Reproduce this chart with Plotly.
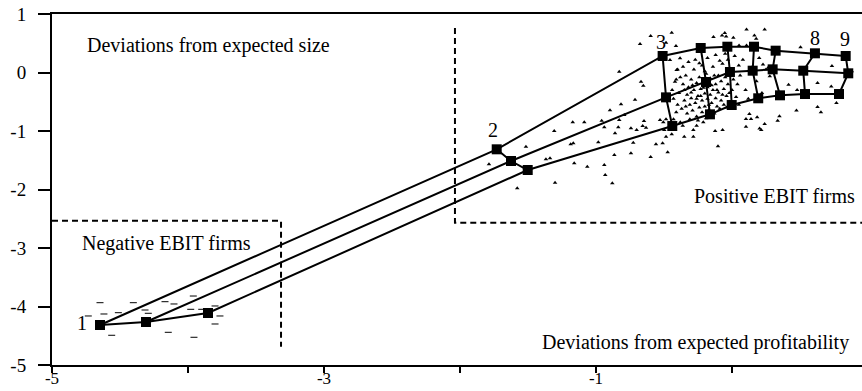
import plotly.graph_objects as go

# ---- data ----
groups = ["1", "2", "3", "4", "5", "6", "7", "8", "9"]
upper_x = [-4.647, -1.730, -0.510, -0.230, -0.034, 0.162, 0.321, 0.610, 0.836]
upper_y = [-4.316, -1.313, 0.282, 0.419, 0.441, 0.441, 0.373, 0.328, 0.282]
middle_x = [-4.309, -1.625, -0.485, -0.191, -0.015, 0.152, 0.299, 0.524, 0.855]
middle_y = [-4.265, -1.513, -0.425, -0.162, 0.009, 0.031, 0.054, 0.031, -0.014]
lower_x = [-3.853, -1.502, -0.439, -0.162, -0.002, 0.193, 0.353, 0.537, 0.787]
lower_y = [-4.111, -1.667, -0.915, -0.715, -0.556, -0.441, -0.390, -0.368, -0.368]

# negative EBIT firms (dash markers)
neg_x = [-4.647, -4.402, -4.169, -4.103, -3.961, -4.733, -4.618, -4.512, -4.316,
         -4.292, -3.980, -3.899, -3.801, -3.765, -3.801, -4.561, -4.145, -3.956]
neg_y = [-3.935, -3.935, -3.918, -3.957, -3.821, -4.162, -4.128, -4.106, -4.060,
         -4.116, -4.048, -4.048, -3.991, -4.162, -4.299, -4.492, -4.441, -4.526]

# positive EBIT firms (small triangles)
pos_pts = [
    (-0.713, -0.465), (-0.816, -0.544), (-0.897, -0.646), (-1.171, -0.851), (-1.086, -0.851),
    (-0.958, -0.824), (-0.829, -0.812), (-0.792, -0.726), (-0.939, -0.937), (-0.836, -0.937),
    (-0.860, -1.039), (-0.743, -0.954), (-0.701, -0.983), (-0.647, -0.829), (-0.657, -0.915),
    (-0.632, -0.944), (-0.529, -0.812), (-0.485, -0.800), (-0.505, -0.851), (-0.498, -0.983),
    (-0.443, -1.056), (-0.485, -1.097), (-0.351, -1.097), (-0.284, -1.097), (-0.362, -0.909),
    (-0.284, -0.983), (-0.260, -0.909), (-0.211, -0.851), (-0.726, -1.200), (-0.983, -1.193),
    (-1.167, -1.210), (-1.186, -1.227), (-0.865, -1.410), (-0.743, -1.381), (-0.559, -1.227),
    (-0.510, -1.210), (-0.598, -1.444), (-0.473, -1.364), (-1.160, -1.552), (-1.064, -1.610),
    (-0.939, -1.581), (-0.932, -1.752), (-0.880, -1.894), (-1.307, -1.000), (-1.515, -1.268),
    (-1.787, -1.569), (-1.368, -1.484), (-1.338, -1.467), (-1.579, -1.979), (-1.301, -1.884),
    (-0.598, 0.624), (-0.443, 0.680), (-0.676, 0.487), (-0.485, 0.509), (-0.412, 0.453),
    (-0.829, 0.014), (-0.669, -0.157), (-0.652, -0.226), (-0.456, 0.214), (-0.407, 0.043),
    (-0.382, 0.243), (-0.419, -0.157),
    (0.107, 0.733), (0.240, 0.733), (-0.136, 0.605), (-0.073, 0.634), (-0.043, 0.617),
    (0.010, 0.595), (-0.053, 0.675), (0.165, 0.634), (0.178, 0.576), (0.052, 0.460),
    (0.107, 0.460), (0.504, 0.431), (0.735, 0.109), (0.278, -0.065), (0.416, -0.210),
    (0.629, -0.181), (0.730, -0.241), (0.479, -0.299), (0.629, -0.590), (0.654, -0.679),
    (0.474, -0.648), (0.768, -0.520), (0.349, -0.747), (0.336, -0.824), (0.128, -0.708),
    (0.103, -0.795), (0.140, -0.795), (0.185, -0.766), (0.240, -0.882), (0.103, -0.928),
    (0.203, -0.957), (0.215, -0.981), (-0.124, -0.998), (-0.069, -0.981), (-0.103, -1.262),
    (0.881, 0.022), (0.228, 0.138), (0.266, 0.080),
    (-0.44, -0.30), (-0.41, -0.12), (-0.40, -0.55), (-0.39, -0.35), (-0.37, -0.62),
    (-0.36, -0.20), (-0.35, -0.48), (-0.34, -0.05), (-0.33, -0.70), (-0.33, -0.38),
    (-0.32, -0.25), (-0.31, -0.55), (-0.30, -0.12), (-0.30, -0.44), (-0.29, -0.65),
    (-0.28, -0.30), (-0.28, 0.05), (-0.27, -0.52), (-0.26, -0.18), (-0.26, -0.75),
    (-0.25, -0.40), (-0.24, -0.60), (-0.24, -0.08), (-0.23, -0.28), (-0.22, -0.48),
    (-0.22, -0.68), (-0.21, -0.15), (-0.20, -0.36), (-0.20, -0.58), (-0.19, -0.02),
    (-0.18, -0.45), (-0.18, -0.25), (-0.17, -0.64), (-0.16, -0.10), (-0.16, -0.38),
    (-0.15, -0.52), (-0.14, -0.30), (-0.14, 0.10), (-0.13, -0.70), (-0.12, -0.20),
    (-0.12, -0.44), (-0.11, -0.58), (-0.10, -0.05), (-0.10, -0.34), (-0.09, -0.62),
    (-0.08, -0.15), (-0.08, -0.48), (-0.07, 0.15), (-0.06, -0.28), (-0.06, -0.55),
    (-0.05, -0.08), (-0.04, -0.40), (-0.03, 0.22), (-0.03, -0.20), (-0.02, -0.50),
    (-0.01, 0.05), (0.00, -0.30), (0.01, -0.12), (0.02, 0.28), (0.03, -0.42),
    (-0.36, 0.10), (-0.32, 0.18), (-0.27, 0.22), (-0.22, 0.12), (-0.18, 0.25),
    (-0.12, 0.30), (-0.09, 0.20), (-0.05, 0.32), (-0.40, 0.05), (-0.43, -0.80),
    (-0.38, -0.85), (-0.31, -0.80), (-0.25, -0.82), (-0.19, -0.78), (-0.43, -0.45),
    (-0.41, -0.68), (-0.35, -0.30), (-0.29, -0.22), (-0.23, -0.40), (-0.17, -0.55),
    (-0.15, -0.22), (-0.11, -0.30), (-0.07, -0.38), (-0.04, -0.60), (0.04, -0.20),
    (0.06, -0.05), (0.05, 0.12), (0.08, 0.22), (0.10, -0.30), (0.12, -0.45),
    (0.15, 0.10), (0.18, -0.15), (0.20, 0.25), (0.22, -0.35), (0.25, 0.05),
    (0.05, -0.55), (-0.34, -0.58), (-0.30, -0.34), (-0.26, -0.45), (-0.21, -0.26),
    (-0.13, -0.05), (-0.02, -0.35), (-0.20, 0.02), (-0.24, 0.16), (-0.38, -0.08),
]
pos_x = [p[0] for p in pos_pts]
pos_y = [p[1] for p in pos_pts]

# group labels shown and their positions
label_text = ["1", "2", "3", "8", "9"]
label_x = [-4.78, -1.757, -0.522, 0.610, 0.831]
label_y = [-4.316, -1.017, 0.487, 0.556, 0.538]

# dashed region boxes
pos_box_x = [-2.037, -2.037, 0.956]
pos_box_y = [0.761, -2.567, -2.567]
neg_box_x = [-5.0, -3.316, -3.316]
neg_box_y = [-2.533, -2.533, -4.687]

x_range = [-5, 0.956]
y_range = [-5, 1]
x_ticks = [-5, -4, -3, -2, -1, 0]
x_tick_text = ["-5", "", "-3", "", "-1", ""]
y_ticks = [1, 0, -1, -2, -3, -4, -5]
y_tick_text = ["1", "0", "-1", "-2", "-3", "-4", "-5"]

FONT = "Liberation Serif, Times New Roman, serif"
BLACK = "#000000"

fig = go.Figure()

# scatter clouds
fig.add_trace(go.Scatter(x=pos_x, y=pos_y, mode="markers",
                         marker=dict(symbol="triangle-up", size=4, color=BLACK),
                         hoverinfo="skip", showlegend=False))
fig.add_trace(go.Scatter(x=neg_x, y=neg_y, mode="markers",
                         marker=dict(symbol="line-ew", size=5, color=BLACK,
                                     line=dict(color=BLACK, width=1)),
                         hoverinfo="skip", showlegend=False))

# dashed boxes
for bx, by in [(pos_box_x, pos_box_y), (neg_box_x, neg_box_y)]:
    fig.add_trace(go.Scatter(x=bx, y=by, mode="lines",
                             line=dict(color=BLACK, width=2, dash="6px,4px"),
                             hoverinfo="skip", showlegend=False))

# cross lines for each group
cx, cy = [], []
for i in range(len(groups)):
    cx += [upper_x[i], middle_x[i], lower_x[i], None]
    cy += [upper_y[i], middle_y[i], lower_y[i], None]
fig.add_trace(go.Scatter(x=cx, y=cy, mode="lines",
                         line=dict(color=BLACK, width=2),
                         hoverinfo="skip", showlegend=False))

# three curves with square markers
for xs, ys in [(upper_x, upper_y), (middle_x, middle_y), (lower_x, lower_y)]:
    fig.add_trace(go.Scatter(x=xs, y=ys, mode="lines+markers",
                             line=dict(color=BLACK, width=2),
                             marker=dict(symbol="square", size=10, color=BLACK),
                             showlegend=False))

# group numbers
fig.add_trace(go.Scatter(x=label_x, y=label_y, mode="text", text=label_text,
                         textfont=dict(family=FONT, size=20, color=BLACK),
                         hoverinfo="skip", showlegend=False))

annots = [
    dict(x=-4.757, y=0.47, text="Deviations from expected size", xanchor="left"),
    dict(x=-4.794, y=-2.915, text="Negative EBIT firms", xanchor="left"),
    dict(x=-0.294, y=-2.111, text="Positive EBIT firms", xanchor="left"),
    dict(x=-1.412, y=-4.607, text="Deviations from expected profitability", xanchor="left"),
]
for a in annots:
    fig.add_annotation(x=a["x"], y=a["y"], text=a["text"], xanchor=a["xanchor"],
                       yanchor="middle", showarrow=False,
                       font=dict(family=FONT, size=20, color=BLACK))

fig.update_layout(
    width=862, height=391,
    margin=dict(l=52, r=0, t=14, b=26, autoexpand=False),
    paper_bgcolor="white", plot_bgcolor="white",
    font=dict(family=FONT, size=18, color=BLACK),
    showlegend=False,
)
fig.update_xaxes(range=x_range, tickvals=x_ticks, ticktext=x_tick_text,
                 ticks="outside", ticklen=6, tickwidth=2, tickcolor=BLACK,
                 showline=True, linecolor=BLACK, linewidth=2, mirror=True,
                 showgrid=False, zeroline=False, automargin=False,
                 tickfont=dict(family=FONT, size=17), ticklabelstandoff=-9)
fig.update_yaxes(range=y_range, tickvals=y_ticks, ticktext=y_tick_text,
                 ticks="outside", ticklen=12, tickwidth=2, tickcolor=BLACK,
                 showline=True, linecolor=BLACK, linewidth=2,
                 showgrid=False, zeroline=False, automargin=False,
                 tickfont=dict(family=FONT, size=19), ticklabelstandoff=8)

fig.write_html("out.html")
